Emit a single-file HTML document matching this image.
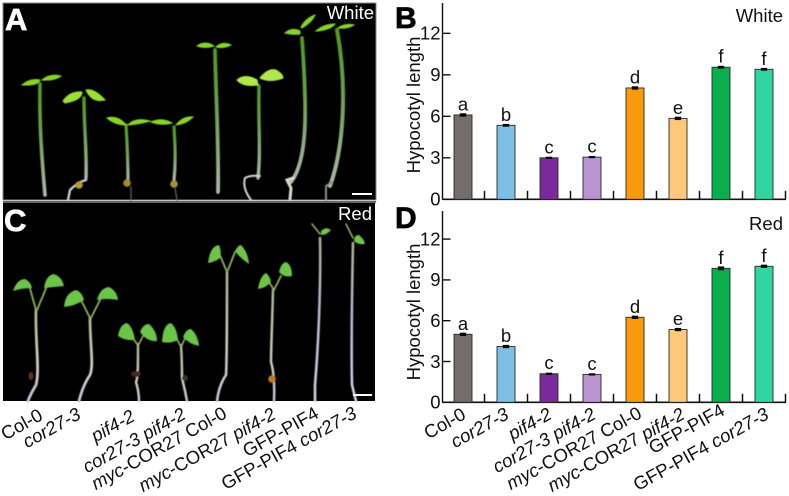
<!DOCTYPE html>
<html>
<head>
<meta charset="utf-8">
<style>
html,body{margin:0;padding:0;background:#fff}
svg{display:block}
text{font-family:"Liberation Sans",sans-serif}
</style>
</head>
<body>
<svg id="fig" width="789" height="496" viewBox="0 0 789 496" xmlns="http://www.w3.org/2000/svg">
<defs>
<linearGradient id="st1" x1="0" y1="0" x2="0" y2="1"><stop offset="0" stop-color="#4f9a22"/><stop offset=".45" stop-color="#6f9f52"/><stop offset="1" stop-color="#aeb8a8"/></linearGradient>
<linearGradient id="st2" x1="0" y1="0" x2="0" y2="1"><stop offset="0" stop-color="#a9b88e"/><stop offset=".55" stop-color="#c9cdb5"/><stop offset="1" stop-color="#c8c4e0"/></linearGradient>
<linearGradient id="st3" x1="0" y1="0" x2="0" y2="1"><stop offset="0" stop-color="#a8b090"/><stop offset=".4" stop-color="#b5b3cc"/><stop offset="1" stop-color="#d4d0ea"/></linearGradient>
<filter id="soft"><feGaussianBlur stdDeviation="0.5"/></filter>
</defs>

<g>
<rect x="3" y="3" width="373" height="197" fill="#000" stroke="#888" stroke-width="1"/>
<g filter="url(#soft)" fill="none" stroke-linecap="round">
<g>
<path d="M45 195C43 170 39 130 40 84" stroke="url(#st1)" stroke-width="3.6"/>
<path d="M22 85Q30 78 40 80Q38 86 22 85Z" fill="#86d426" stroke="#86d426"/>
<path d="M42 80Q50 73 61 76Q55 81 42 80Z" fill="#86d426" stroke="#86d426"/>
</g>
<g>
<path d="M86 178C87 150 84 130 84 98" stroke="url(#st1)" stroke-width="3.4"/>
<path d="M63 101Q70 91 82 92Q82 100 65 103Z" fill="#9ae030" stroke="#9ae030"/>
<path d="M86 90Q94 88 105 100Q92 103 86 90Z" fill="#9ae030" stroke="#9ae030"/>
<path d="M86 180Q78 182 70 190L68 200" stroke="#ccc" stroke-width="2.4"/>
<circle cx="79" cy="185" r="3.8" fill="#b49a30" stroke="none"/>
</g>
<g>
<path d="M128 183C128 160 127 140 126 125" stroke="url(#st1)" stroke-width="3.2"/>
<path d="M107 118Q118 115 126 125Q115 125 107 118Z" fill="#86d426" stroke="#86d426"/>
<path d="M128 125Q135 117 150 121Q140 124 128 125Z" fill="#86d426" stroke="#86d426"/>
<circle cx="127" cy="183" r="3.8" fill="#a08a30" stroke="none"/>
<path d="M131 187L131 200" stroke="#555" stroke-width="1.5"/>
</g>
<g>
<path d="M174 180C176 160 175 145 174 127" stroke="url(#st1)" stroke-width="3.2"/>
<path d="M151 122Q162 117 172 123Q162 126 151 122Z" fill="#86d426" stroke="#86d426"/>
<path d="M176 125Q183 116 193 117Q186 124 176 125Z" fill="#86d426" stroke="#86d426"/>
<circle cx="174" cy="184" r="3.8" fill="#a89030" stroke="none"/>
<path d="M175 188L177 200" stroke="#555" stroke-width="1.5"/>
</g>
<g>
<path d="M218 192C219 150 216 100 215 50" stroke="url(#st1)" stroke-width="3.8"/>
<path d="M197 46Q205 40 214 46Q205 49 197 46Z" fill="#86d426" stroke="#86d426"/>
<path d="M216 47Q222 41 231 45Q224 49 216 47Z" fill="#86d426" stroke="#86d426"/>
</g>
<g>
<path d="M258 178C261 150 258 120 259 86" stroke="url(#st1)" stroke-width="3.4"/>
<path d="M237 80Q245 73 257 80L258 85Q243 87 237 80Z" fill="#aee84c" stroke="#aee84c"/>
<path d="M260 78Q268 68 276 70Q283 74 283 78Q270 83 260 78Z" fill="#aee84c" stroke="#aee84c"/>
<path d="M260 176Q250 175 245 178Q242 188 251 200" stroke="#d8d8d0" stroke-width="2"/>
</g>
<g>
<path d="M291 182C308 160 307 110 302 38" stroke="url(#st1)" stroke-width="3.8"/>
<path d="M285 33Q292 27 300 31L300 34Q292 35 285 33Z" fill="#86d426" stroke="#86d426"/>
<path d="M301 27Q306 18 315 15Q312 22 302 28Z" fill="#86d426" stroke="#86d426"/>
<path d="M293 178L287 180L291 188L290 199" stroke="#dcdcd0" stroke-width="3"/>
</g>
<g>
<path d="M330 186C343 150 348 90 337 30" stroke="url(#st1)" stroke-width="4"/>
<path d="M316 31Q324 24 335 24Q330 30 316 31Z" fill="#86d426" stroke="#86d426"/>
<path d="M338 28Q345 23 354 25Q348 29 338 28Z" fill="#86d426" stroke="#86d426"/>
<path d="M332 182L326 186L326 200" stroke="#8a9090" stroke-width="2"/>
</g>
</g>
<rect x="352" y="193" width="20" height="2" fill="#fff"/>
<text x="5" y="30" font-size="31" font-weight="700" fill="#fff" stroke="#fff" stroke-width=".7">A</text>
<text x="374" y="19" font-size="18.5" fill="#fff" text-anchor="end">White</text>
</g>

<rect x="3" y="201" width="373" height="2" fill="#666"/>

<g>
<rect x="3" y="203" width="372" height="198" fill="#000"/>
<g filter="url(#soft)" fill="none" stroke-linecap="round">
<g>
<path d="M36 310C35 340 40 370 36 385Q30 395 28 401" stroke="url(#st2)" stroke-width="2.8"/>
<path d="M36 310L29 285M37 310L47 286" stroke="#8db060" stroke-width="1.8"/>
<path d="M13 291Q17 279 25 279Q31 282 32 288Q22 288 13 291Z" fill="#6cc44a"/>
<path d="M44 288Q46 275 54 274Q62 277 64 286Q54 287 44 288Z" fill="#6cc44a"/>
<ellipse cx="31" cy="376" rx="2.5" ry="4" fill="#5a3020" stroke="none"/>
</g>
<g>
<path d="M90 318C90 345 94 365 90 375Q83 385 79 401" stroke="url(#st2)" stroke-width="2.8"/>
<path d="M90 318L80 298M91 318L101 298" stroke="#8db060" stroke-width="1.8"/>
<path d="M64 307Q65 293 76 290Q82 292 84 300Q75 306 64 307Z" fill="#6cc44a"/>
<path d="M97 300Q100 288 109 287Q117 291 118 300Q107 298 97 300Z" fill="#6cc44a"/>
</g>
<g>
<path d="M138 344C138 365 138 378 136 382Q139 392 139 401" stroke="url(#st2)" stroke-width="2.5"/>
<path d="M137 344L130 334M139 344L144 334" stroke="#8db060" stroke-width="1.6"/>
<path d="M118 336Q120 324 127 323Q133 327 135 340Q125 341 118 336Z" fill="#6cc44a"/>
<path d="M140 332Q143 324 149 324Q157 331 157 341Q147 342 140 332Z" fill="#6cc44a"/>
<ellipse cx="136" cy="374" rx="5" ry="3" fill="#4a2820" stroke="none"/>
</g>
<g>
<path d="M181 345C182 360 182 372 182 378Q185 390 187 401" stroke="url(#st2)" stroke-width="2.5"/>
<path d="M180 345L174 334M182 345L186 336" stroke="#8db060" stroke-width="1.6"/>
<path d="M162 342Q163 324 171 323Q177 328 178 340Q170 344 162 342Z" fill="#6cc44a"/>
<path d="M183 337Q186 329 191 329Q198 335 199 346Q189 344 183 337Z" fill="#6cc44a"/>
<ellipse cx="185" cy="378" rx="3" ry="3" fill="#3a3028" stroke="none"/>
</g>
<g>
<path d="M227 272C227 320 227 360 226 375Q219 385 217 401" stroke="url(#st2)" stroke-width="2.6"/>
<path d="M227 272L219 253M228 270L235 252" stroke="#8db060" stroke-width="1.8"/>
<path d="M208 263Q210 246 219 245Q222 252 220 258Q215 262 208 263Z" fill="#6cc44a"/>
<path d="M235 251Q238 245 241 245Q248 252 249 264Q240 258 235 251Z" fill="#6cc44a"/>
</g>
<g>
<path d="M273 290C272 330 271 350 271 362Q275 375 274 401" stroke="url(#st2)" stroke-width="2.5"/>
<path d="M274 290L269 282M274 290L281 276" stroke="#8db060" stroke-width="1.8"/>
<path d="M258 289Q260 276 266 273Q270 276 271 282Q266 288 258 289Z" fill="#6cc44a"/>
<path d="M279 272Q281 263 286 262Q292 265 292 276Q284 278 279 272Z" fill="#6cc44a"/>
<circle cx="272" cy="379" r="3.8" fill="#c07828" stroke="none"/>
</g>
<g>
<path d="M320 238C321 290 318 350 315 385L315 401" stroke="url(#st3)" stroke-width="2.6"/>
<path d="M320 234L312 224" stroke="#a0b060" stroke-width="1.5"/>
<path d="M321 231Q326 226 331 230Q327 235 321 235Z" fill="#6cc44a"/>
</g>
<g>
<path d="M353 243C352 290 351 340 352 385L356 401" stroke="url(#st3)" stroke-width="2.6"/>
<path d="M353 238L346 224" stroke="#a0b060" stroke-width="1.5"/>
<path d="M354 241Q354 235 359 235Q364 239 365 244Q358 245 354 241Z" fill="#6cc44a"/>
</g>
</g>
<rect x="353" y="394" width="19" height="2" fill="#fff"/>
<text x="4" y="231" font-size="31" font-weight="700" fill="#fff" stroke="#fff" stroke-width=".7">C</text>
<text x="372" y="220" font-size="18.5" fill="#fff" text-anchor="end">Red</text>
</g>

<g id="photo-labels"></g>
<g id="chart-b"></g>
<g id="chart-d"></g>
</svg>

<script>
const categories = ["Col-0", "cor27-3", "pif4-2", "cor27-3 pif4-2", "myc-COR27 Col-0", "myc-COR27 pif4-2", "GFP-PIF4", "GFP-PIF4 cor27-3"];
const whiteValues = [6.1, 5.35, 3.0, 3.05, 8.05, 5.85, 9.55, 9.4];
const whiteErrors = [0.12, 0.1, 0.08, 0.08, 0.12, 0.12, 0.1, 0.1];
const redValues = [5.0, 4.1, 2.1, 2.05, 6.25, 5.35, 9.85, 10.0];
const redErrors = [0.12, 0.12, 0.08, 0.08, 0.12, 0.12, 0.14, 0.12];
const significance = ["a", "b", "c", "c", "d", "e", "f", "f"];
const yTicks = [0, 3, 6, 9, 12];
const barColors = ["#736e6b", "#7cc0e6", "#7b2a9e", "#bb95d3", "#fa9a0a", "#fdc878", "#0aae4e", "#2fd6a2"];

const NS = "http://www.w3.org/2000/svg";
function make(tag, attrs, parent, content) {
  const el = document.createElementNS(NS, tag);
  for (const k in attrs) el.setAttribute(k, attrs[k]);
  if (content !== undefined) el.textContent = content;
  parent.appendChild(el);
  return el;
}
function drawChart(root, cfg) {
  const yScale = v => cfg.base - v * cfg.unit;
  const xCenter = i => cfg.left + 20.5 + i * cfg.step;
  const yAxis = make("line", {x1: cfg.left, x2: cfg.left, y1: cfg.top, y2: cfg.base + 0.5, stroke: "#111", "stroke-width": 1.4}, root);
  
  
  const xAxis = make("line", {x1: cfg.left, x2: 786, y1: cfg.base, y2: cfg.base, stroke: "#111", "stroke-width": 1.6}, root);
  
  
  yTicks.forEach(t => {
    const y = yScale(t);
    const tick = make("line", {x1: cfg.left, x2: cfg.left + 8, y1: y, y2: y, stroke: "#111", "stroke-width": 1.4}, root);
    
    
    const label = make("text", {x: 440.5, y: y + 6.3, "font-size": 18.5, "text-anchor": "end", fill: "#111"}, root, String(t));
    
    
  });
  cfg.values.forEach((v, i) => {
    const cx = xCenter(i);
    const top = yScale(v);
    const bar = make("rect", {x: cx - 9, y: top, width: 18, height: cfg.base - top, fill: barColors[i], stroke: "#2a2a2a", "stroke-width": 0.9}, root);
    
    
    const errTop = yScale(v + cfg.errors[i]);
    const errBottom = yScale(v - cfg.errors[i]);
    const err = make("rect", {x: cx - 3.2, y: errTop, width: 6.4, height: errBottom - errTop, fill: "#000"}, root);
    
    
    const letter = make("text", {x: cx, y: top - 4.5, "font-size": 18.5, "text-anchor": "middle", fill: "#111"}, root, significance[i]);
    
    
    const xt = cx + cfg.step / 2;
    const xTick = make("line", {x1: xt, x2: xt, y1: cfg.base, y2: cfg.base - 8.5, stroke: "#111", "stroke-width": 1.5}, root);
    
    
  });
  const title = make("text", {x: 420, y: cfg.titleY, "font-size": 18.5, "text-anchor": "middle", fill: "#111", transform: "rotate(-90 420 " + cfg.titleY + ")"}, root, "Hypocotyl length");
  
  
  const panel = make("text", {x: 395, y: cfg.letterY, "font-size": 30, "font-weight": 700, fill: "#000", stroke: "#000", "stroke-width": 0.7}, root, cfg.letter);
  
  
  const cond = make("text", {x: 783, y: cfg.condY, "font-size": 18.5, "text-anchor": "end", fill: "#111"}, root, cfg.cond);
  
  
}
drawChart(document.getElementById("chart-b"), {left: 442.5, top: 3, base: 199.3, unit: 13.83, step: 43, values: whiteValues, errors: whiteErrors, letter: "B", letterY: 28, cond: "White", condY: 22, titleY: 105});
drawChart(document.getElementById("chart-d"), {left: 442.5, top: 211, base: 402.3, unit: 13.6, step: 43, values: redValues, errors: redErrors, letter: "D", letterY: 228, cond: "Red", condY: 230, titleY: 312});

function drawLabels(root, anchors) {
  categories.forEach((name, i) => {
    const italicAll = i === 1 || i === 2 || i === 3;
    const a = anchors[i];
    const t = make("text", {x: a[0], y: a[1], "font-size": 18.5, "text-anchor": "end", fill: "#111", transform: "rotate(-29 " + a[0] + " " + a[1] + ")"}, root);
    
    
    if (italicAll) {
      t.setAttribute("font-style", "italic");
      t.textContent = name;
    } else if (i === 4 || i === 5) {
      const parts = name.split(" ");
      make("tspan", {"font-style": "italic"}, t, "myc");
      make("tspan", {}, t, parts[0].slice(3) + " ");
      make("tspan", i === 5 ? {"font-style": "italic"} : {}, t, parts[1]);
    } else if (i === 7) {
      make("tspan", {}, t, "GFP-PIF4 ");
      make("tspan", {"font-style": "italic"}, t, "cor27-3");
    } else {
      t.textContent = name;
    }
  });
}
drawLabels(document.getElementById("photo-labels"), [[44,419],[82,418],[136,420],[187,418],[228,417],[277,418],[320,417],[358,417]]);
drawLabels(document.getElementById("chart-d"), [[467,418],[510,418],[553,418],[597,418],[643,417],[686,418],[726,414],[770,418]]);
</script>
</body>
</html>
